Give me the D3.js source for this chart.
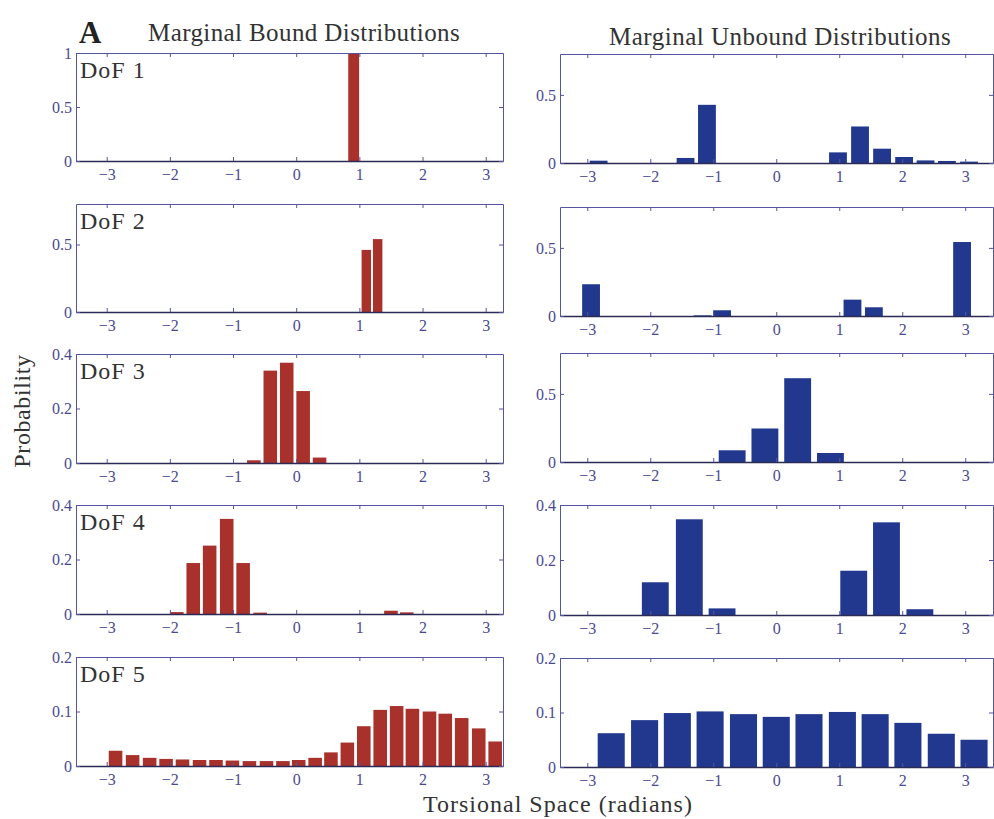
<!DOCTYPE html>
<html>
<head>
<meta charset="utf-8">
<script src="https://cdn.jsdelivr.net/npm/d3@7"></script>
<style>
  body { margin: 0; background: #fff; }
  svg { display: block; }
  svg text { font-family: 'Liberation Serif', 'DejaVu Serif', serif; }
</style>
</head>
<body>
<div id="chart"></div>
<script>
// Histogram data (bin centres in radians, probabilities)
const xTicks = [-3, -2, -1, 0, 1, 2, 3];

const boundX1 = [0.91];
const boundP1 = [1.0];
const boundX2 = [1.11, 1.29];
const boundP2 = [0.46, 0.54];
const boundX3 = [-0.67, -0.41, -0.15, 0.11, 0.37];
const boundP3 = [0.010, 0.339, 0.368, 0.264, 0.020];
const boundX4 = [-1.89, -1.63, -1.37, -1.10, -0.84, -0.57, 1.50, 1.75];
const boundP4 = [0.007, 0.187, 0.251, 0.349, 0.187, 0.005, 0.012, 0.006];
const boundX5 = [-2.86, -2.59, -2.32, -2.06, -1.80, -1.53, -1.27, -1.01, -0.74, -0.47, -0.21, 0.04,
                 0.30, 0.55, 0.81, 1.07, 1.33, 1.59, 1.84, 2.11, 2.36, 2.62, 2.89, 3.15];
const boundP5 = [0.028, 0.020, 0.015, 0.013, 0.012, 0.011, 0.011, 0.010, 0.009, 0.009, 0.009, 0.011,
                 0.015, 0.025, 0.043, 0.073, 0.103, 0.110, 0.105, 0.100, 0.096, 0.088, 0.069, 0.045];

const unboundX1 = [-2.82, -1.44, -1.10, 0.98, 1.33, 1.68, 2.03, 2.37, 2.71, 3.06];
const unboundP1 = [0.017, 0.037, 0.427, 0.078, 0.268, 0.105, 0.044, 0.019, 0.015, 0.010];
const unboundX2 = [-2.94, -1.17, -0.86, 1.21, 1.55, 2.95];
const unboundP2 = [0.233, 0.005, 0.042, 0.120, 0.064, 0.543];
const unboundX3 = [-0.70, -0.18, 0.34, 0.86];
const unboundP3 = [0.086, 0.246, 0.615, 0.066];
const unboundX4 = [-1.92, -1.38, -0.86, 1.23, 1.75, 2.28];
const unboundP4 = [0.119, 0.348, 0.024, 0.161, 0.337, 0.021];
const unboundX5 = [-2.62, -2.09, -1.57, -1.05, -0.52, 0.0, 0.52, 1.05, 1.57, 2.09, 2.62, 3.14];
const unboundP5 = [0.062, 0.086, 0.099, 0.102, 0.097, 0.092, 0.097, 0.101, 0.097, 0.081, 0.061, 0.050];

// histogram bin widths (radians)
const boundBin = [0.21, 0.182, 0.262, 0.262, 0.262];
const unboundBin = [0.345, 0.345, 0.52, 0.52, 0.524];

// y axis limits and ticks
const boundYMax = [1, 0.8, 0.4, 0.4, 0.2];
const boundYTicks = [[0, 0.5, 1], [0, 0.5], [0, 0.2, 0.4], [0, 0.2, 0.4], [0, 0.1, 0.2]];
const unboundYMax = [0.8, 0.8, 0.8, 0.4, 0.2];
const unboundYTicks = [[0, 0.5], [0, 0.5], [0, 0.5], [0, 0.2, 0.4], [0, 0.1, 0.2]];

const dofNames = ['DoF 1', 'DoF 2', 'DoF 3', 'DoF 4', 'DoF 5'];

const boundX = [boundX1, boundX2, boundX3, boundX4, boundX5];
const boundP = [boundP1, boundP2, boundP3, boundP4, boundP5];
const unboundX = [unboundX1, unboundX2, unboundX3, unboundX4, unboundX5];
const unboundP = [unboundP1, unboundP2, unboundP3, unboundP4, unboundP5];

// Layout
const W = 994, H = 819;
const leftCol = { x0: 76, x1: 503, domain: [-3.486, 3.274] };
const rightCol = { x0: 560, x1: 993, domain: [-3.433, 3.441] };
const leftRows = [[53, 161], [204, 312], [354, 463], [505, 614], [657, 766]];
const rightRows = [[54, 163], [207, 316], [353, 462], [505, 615], [658, 767]];
const frameColor = '#55559f';
const tickColor = '#4a4a90';
const barRatio = 0.82;

const svg = d3.select('#chart').append('svg')
  .attr('width', W)
  .attr('height', H);

svg.append('rect').attr('width', W).attr('height', H).attr('fill', '#fff');

function drawPanel(col, row, xs, ps, bin, yMax, yTicks, color, label) {
  const x = d3.scaleLinear().domain(col.domain).range([col.x0, col.x1]);
  const y = d3.scaleLinear().domain([0, yMax]).range([row[1], row[0]]);
  const g = svg.append('g');

  // bars
  const data = xs.map((d, i) => ({ x: d, p: ps[i] }));
  const bw = x(bin * barRatio) - x(0);
  g.selectAll('rect.bar')
    .data(data)
    .enter()
    .append('rect')
    .attr('class', 'bar')
    .attr('x', d => x(d.x) - bw / 2)
    .attr('y', d => y(d.p))
    .attr('width', bw)
    .attr('height', d => y(0) - y(d.p))
    .attr('fill', color);

  // bottom axis (ticks inward, like matlab)
  const xAxis = d3.axisBottom(x).tickValues(xTicks).tickSizeInner(-4).tickSizeOuter(0)
    .tickPadding(8).tickFormat(d => d < 0 ? '\u2212' + Math.abs(d) : d);
  const gx = g.append('g').attr('transform', `translate(0,${row[1]})`).call(xAxis);
  gx.select('.domain').attr('stroke', '#2b2b55').attr('stroke-width', 1.3);
  gx.selectAll('.tick line').attr('stroke', frameColor);
  gx.selectAll('.tick text').attr('fill', tickColor).attr('font-size', 16);

  // top ticks
  const gt = g.append('g').attr('transform', `translate(0,${row[0]})`)
    .call(d3.axisTop(x).tickValues(xTicks).tickSizeInner(-4).tickSizeOuter(0).tickFormat(''));
  gt.select('.domain').attr('stroke', frameColor);
  gt.selectAll('.tick line').attr('stroke', frameColor);

  // left axis
  const yAxis = d3.axisLeft(y).tickValues(yTicks).tickSizeInner(-4).tickSizeOuter(0)
    .tickPadding(4).tickFormat(d3.format('~g'));
  const gy = g.append('g').attr('transform', `translate(${col.x0},0)`).call(yAxis);
  gy.select('.domain').attr('stroke', frameColor);
  gy.selectAll('.tick line').attr('stroke', frameColor);
  gy.selectAll('.tick text').attr('fill', tickColor).attr('font-size', 16);

  // right ticks
  const gr = g.append('g').attr('transform', `translate(${col.x1},0)`)
    .call(d3.axisRight(y).tickValues(yTicks).tickSizeInner(-4).tickSizeOuter(0).tickFormat(''));
  gr.select('.domain').attr('stroke', frameColor);
  gr.selectAll('.tick line').attr('stroke', frameColor);

  if (label) {
    g.append('text')
      .attr('x', col.x0 + 4)
      .attr('y', row[0] + 25)
      .attr('font-size', 24)
      .attr('letter-spacing', 1)
      .attr('fill', '#333')
      .text(label);
  }
}

for (let i = 0; i < 5; i++) {
  drawPanel(leftCol, leftRows[i], boundX[i], boundP[i], boundBin[i], boundYMax[i], boundYTicks[i], '#a8312c', dofNames[i]);
  drawPanel(rightCol, rightRows[i], unboundX[i], unboundP[i], unboundBin[i], unboundYMax[i], unboundYTicks[i], '#22388e', null);
}

// Titles and labels
svg.append('text').attr('x', 79).attr('y', 43).attr('font-size', 31).attr('font-weight', 'bold')
  .attr('fill', '#222').text('A');
svg.append('text').attr('x', 148).attr('y', 41).attr('font-size', 25).attr('fill', '#333')
  .attr('letter-spacing', 0.4).text('Marginal Bound Distributions');
svg.append('text').attr('x', 609).attr('y', 45).attr('font-size', 25).attr('fill', '#333')
  .attr('letter-spacing', 0.5).text('Marginal Unbound Distributions');
svg.append('text').attr('transform', 'translate(30,411) rotate(-90)').attr('text-anchor', 'middle')
  .attr('font-size', 24).attr('letter-spacing', 0.6).attr('fill', '#333').text('Probability');
svg.append('text').attr('x', 558).attr('y', 812).attr('text-anchor', 'middle')
  .attr('font-size', 24).attr('letter-spacing', 1).attr('fill', '#333').text('Torsional Space (radians)');
</script>
</body>
</html>
